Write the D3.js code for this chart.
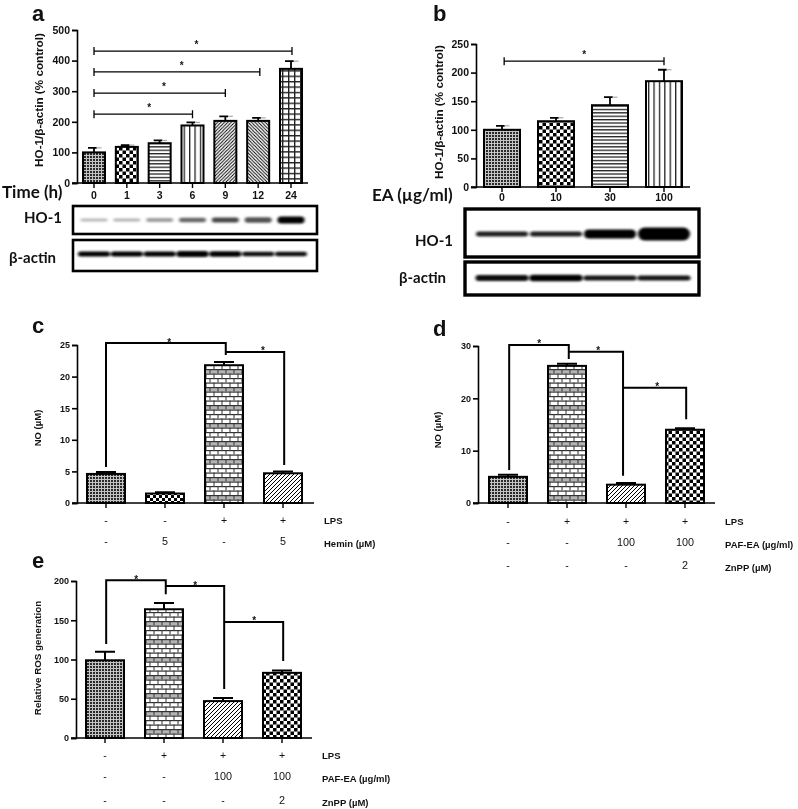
<!DOCTYPE html>
<html><head><meta charset="utf-8">
<script src="https://cdn.jsdelivr.net/npm/d3@7"></script>
<style>
html,body{margin:0;padding:0;background:#fff}
svg{display:block;filter:blur(0.35px)}
text{font-family:"Liberation Sans",Arial,sans-serif;fill:#111}
</style></head><body>
<script>
// ---------- data ----------
const catsA=["0","1","3","6","9","12","24"];
const valsA=[100,118,130,188,203,203,373];
const errsA=[15,6,9,10,15,10,25];
const fillsA=["fine","checker","hline","vline","diagR","diagL","grid"];
const ticksA=[0,100,200,300,400,500];
const bracketsA=[[0,3,225,1.68],[0,4,294,2.13],[0,5.05,363,2.67],[0,6.03,431,3.12]];

const catsB=["0","10","30","100"];
const valsB=[100,115,143,185];
const errsB=[7,6,14,20];
const fillsB=["fine","checker","hline","vline"];
const ticksB=[0,50,100,150,200,250];
const bracketsB=[[0.04,3,220,1.52]];

const catsC=["c1","c2","c3","c4"];
const valsC=[4.6,1.5,21.8,4.7];
const errsC=[0.3,0.2,0.5,0.3];
const fillsC=["fine","checkerSmall","brick","diagW"];
const ticksC=[0,5,10,15,20,25];
const pathsC=[[0,5.7,25.3,2.03,23.4,1.07],[2.03,23.9,23.9,3.02,6.0,2.66]];
const rowsC=[["-","-","+","+"],["-","5","-","5"]];
const rowNamesC=["LPS","Hemin (µM)"];

const catsD=["d1","d2","d3","d4"];
const valsD=[5,26.2,3.5,14];
const errsD=[0.4,0.4,0.3,0.3];
const fillsD=["fine","brick","diagW","checker"];
const ticksD=[0,10,20,30];
const pathsD=[[0.02,6.3,30.2,1.03,27.5,0.53],[1.03,28.9,28.9,1.95,5.2,1.53],[1.95,22,22,3.02,16,2.53]];
const rowsD=[["-","+","+","+"],["-","-","100","100"],["-","-","-","2"]];
const rowNamesD=["LPS","PAF-EA (µg/ml)","ZnPP (µM)"];

const catsE=["e1","e2","e3","e4"];
const valsE=[99,164,47,83];
const errsE=[11,8,4,3];
const fillsE=["fine","brick","diagW","checker"];
const ticksE=[0,50,100,150,200];
const pathsE=[[0.02,119.7,201,1.03,183,0.53],[1.03,193.6,193.6,2.02,62.4,1.53],[2.02,147.8,147.8,3.02,98,2.53]];
const rowsE=[["-","+","+","+"],["-","-","100","100"],["-","-","-","2"]];
const rowNamesE=["LPS","PAF-EA (µg/ml)","ZnPP (µM)"];

const hoA=[0.28,0.3,0.38,0.6,0.72,0.68,1];
const hoThickA=[3,3,4,4.5,5,5.5,7];
const actinA=[1,1,1,1,1,0.95,0.95];
const actinThickA=[5,5,5,6,5.5,4.5,4.5];
const hoB=[0.88,0.88,1,1];
const hoThickB=[5,5,9,13];
const actinB=[0.95,1,0.92,0.92];
const actinThickB=[6,6.5,5,5];

// ---------- drawing ----------
const svg=d3.select("body").append("svg").attr("width",798).attr("height",809);
const defs=svg.append("defs");
function pat(id,w,h,draw,bg){
  const p=defs.append("pattern").attr("id",id).attr("patternUnits","userSpaceOnUse").attr("width",w).attr("height",h);
  p.append("rect").attr("width",w).attr("height",h).attr("fill",bg||"#fff");
  draw(p);
}
const r=(p,x,y,w,h,c)=>p.append("rect").attr("x",x).attr("y",y).attr("width",w).attr("height",h).attr("fill",c||"#000");
const l=(p,d,sw)=>p.append("path").attr("d",d).attr("stroke","#000").attr("stroke-width",sw).attr("fill","none");
pat("fine",3,3,p=>r(p,0,0,2,2,"#2a2a2a"),"#c4c4c4");
pat("checker",7,7,p=>{r(p,0,0,3.5,3.5);r(p,3.5,3.5,3.5,3.5);});
pat("checkerSmall",6,6,p=>{r(p,0,0,3,3);r(p,3,3,3,3);});
pat("hline",10,3.4,p=>r(p,0,0,10,1.3,"#222"));
pat("vline",5.4,10,p=>r(p,0,0,1.3,10,"#222"));
pat("diagR",3.4,3.4,p=>l(p,"M-1,1 L1,-1 M0,3.4 L3.4,0 M2.4,4.4 L4.4,2.4",0.95));
pat("diagL",3.4,3.4,p=>l(p,"M-1,2.4 L1,4.4 M0,0 L3.4,3.4 M2.4,-1 L4.4,1",0.95));
pat("diagW",4,4,p=>l(p,"M-1,1 L1,-1 M0,4 L4,0 M3,5 L5,3",1));
pat("grid",6,5.4,p=>{r(p,0,0,1.4,5.4,"#222");r(p,0,0,6,1.4,"#222");});
pat("brick",8,18,p=>{
  r(p,0,9,8,4.5,"#b4b4b4");
  [0,4.5,9,13.5].forEach(v=>r(p,0,v,8,1.2,"#333"));
  r(p,1.5,0,1,4.5,"#333");r(p,5.5,4.5,1,4.5,"#333");r(p,1.5,9,1,4.5,"#333");r(p,5.5,13.5,1,4.5,"#333");
});
defs.append("filter").attr("id","blot").attr("x","-30%").attr("y","-100%").attr("width","160%").attr("height","300%")
  .append("feGaussianBlur").attr("stdDeviation","1.8 1.1");

function panel(o){
  const g=svg.append("g");
  const x=d3.scalePoint().domain(o.cats).range(o.xr);
  const y=d3.scaleLinear().domain([0,o.ticks[o.ticks.length-1]]).range(o.yr);
  const xi=i=>o.xr[0]+i*x.step();
  const bars=g.selectAll(".b").data(o.vals).enter().append("g");
  bars.append("path")
    .attr("d",(d,i)=>{const cx=x(o.cats[i]);const t=y(d+o.errs[i]);
      return `M${cx},${y(d)}V${t}M${cx-o.cap},${t}H${cx+(o.tail?o.cap*0.45:o.cap)}`;})
    .attr("stroke","#000").attr("stroke-width",o.errW).attr("fill","none");
  if(o.tail) bars.append("path")
    .attr("d",(d,i)=>{const cx=x(o.cats[i]);const t=y(d+o.errs[i]);return `M${cx+o.cap*0.45},${t}H${cx+o.cap*1.25}`;})
    .attr("stroke","#aaa").attr("stroke-width",1.2).attr("fill","none");
  bars.append("rect")
    .attr("x",(d,i)=>x(o.cats[i])-o.bw/2).attr("width",o.bw)
    .attr("y",d=>y(d)).attr("height",d=>y(0)-y(d))
    .attr("fill",(d,i)=>`url(#${o.fills[i]})`).attr("stroke","#000").attr("stroke-width",o.barW);
  const ya=d3.axisLeft(y).tickValues(o.ticks).tickSize(5).tickPadding(2).tickFormat(d3.format("d"));
  const yg=g.append("g").attr("transform",`translate(${o.xa},0)`).call(ya);
  yg.selectAll("text").attr("font-size",o.tickFs).attr("font-weight","bold").style("font-family",'"Liberation Sans"');
  yg.selectAll("line,path").attr("stroke","#000").attr("stroke-width",1.6);
  g.append("path").attr("d",`M${o.xa-5},${y(0)}H${o.xEnd}`).attr("stroke","#000").attr("stroke-width",1.6);
  g.selectAll(".t").data(o.cats).enter().append("path")
    .attr("d",c=>`M${x(c)},${y(0)}v5`).attr("stroke","#000").attr("stroke-width",1.4);
  if(o.labels) g.selectAll(".l").data(o.cats).enter().append("text")
    .attr("x",c=>x(c)).attr("y",o.labelY).attr("text-anchor","middle")
    .attr("font-size",o.tickFs).attr("font-weight","bold").text(c=>c);
  g.append("text").attr("transform",`translate(${o.titleX},${o.titleY}) rotate(-90)`)
    .attr("text-anchor","middle").attr("font-size",o.titleFs).attr("font-weight","bold").text(o.title);
  g.append("text").attr("x",o.letter[1]).attr("y",o.letter[2]).attr("font-size",22).attr("font-weight","bold").text(o.letter[0]);
  (o.brackets||[]).forEach(b=>{
    const Y=y(b[2]);
    g.append("path").attr("d",`M${xi(b[0])},${Y-4}v8M${xi(b[0])},${Y}H${xi(b[1])}M${xi(b[1])},${Y-4}v8`)
      .attr("stroke","#000").attr("stroke-width",1.3).attr("fill","none");
    g.append("text").attr("x",xi(b[3])).attr("y",Y-3).attr("text-anchor","middle").attr("font-size",10).attr("font-weight","bold").text("*");
  });
  (o.paths||[]).forEach(b=>{
    g.append("path").attr("d",`M${xi(b[0])},${y(b[1])}V${y(b[2])}H${xi(b[3])}V${y(b[4])}`)
      .attr("stroke","#000").attr("stroke-width",2).attr("fill","none");
    g.append("text").attr("x",xi(b[5])).attr("y",y(b[2])+2.5).attr("text-anchor","middle").attr("font-size",10).attr("font-weight","bold").text("*");
  });
  (o.rows||[]).forEach((row,k)=>{
    row.forEach((t,i)=>{
      g.append("text").attr("x",x(o.cats[i])).attr("y",o.rowY[k]).attr("text-anchor","middle")
        .attr("font-size",t!=="-"&&t!=="+"?10.8:10.5).attr("fill","#222").text(t);
    });
    g.append("text").attr("x",o.rowX).attr("y",o.rowY[k]+(k?1.5:0)).attr("font-size",o.rowFs).attr("font-weight","bold").text(o.rowNames[k]);
  });
  return {x,y,g};
}

function blot(cx,xs,cy,vals,thick,w,box,boxW){
  svg.append("rect").attr("x",box[0]).attr("y",box[1]).attr("width",box[2]-box[0]).attr("height",box[3]-box[1])
    .attr("fill","#fff").attr("stroke","#000").attr("stroke-width",boxW);
  svg.append("g").attr("filter","url(#blot)").selectAll("rect").data(vals).enter().append("rect")
    .attr("x",(d,i)=>xs(cx[i])-w/2).attr("width",w)
    .attr("y",(d,i)=>cy-thick[i]/2).attr("height",(d,i)=>thick[i])
    .attr("rx",(d,i)=>thick[i]/2).attr("ry",(d,i)=>thick[i]/2)
    .attr("fill","#000").attr("fill-opacity",d=>d);
}
function label(t,x,y,fs){
  svg.append("text").attr("x",x).attr("y",y).attr("font-size",fs).attr("font-weight","bold")
    .style("font-family","Lato,'Open Sans',sans-serif").text(t);
}

const A=panel({cats:catsA,vals:valsA,errs:errsA,fills:fillsA,ticks:ticksA,xr:[94,291],yr:[183,30],xa:77,xEnd:308,bw:22,cap:6,tail:true,errW:1.8,barW:2,
  tickFs:10.5,labels:true,labelY:199,title:"HO-1/β-actin (% control)",titleX:43,titleY:100,titleFs:11.7,letter:["a",32,21],brackets:bracketsA});
const B=panel({cats:catsB,vals:valsB,errs:errsB,fills:fillsB,ticks:ticksB,xr:[502,664],yr:[187,44],xa:476,xEnd:690,bw:36,cap:6,tail:true,errW:1.8,barW:2,
  tickFs:10.5,labels:true,labelY:201,title:"HO-1/β-actin (% control)",titleX:443,titleY:112,titleFs:11.7,letter:["b",433,21],brackets:bracketsB});
panel({cats:catsC,vals:valsC,errs:errsC,fills:fillsC,ticks:ticksC,xr:[106,283],yr:[503,345],xa:77,xEnd:314,bw:38,cap:10,errW:2,barW:2,
  tickFs:9,title:"NO (µM)",titleX:41,titleY:428,titleFs:9.5,letter:["c",32,333],paths:pathsC,rows:rowsC,rowNames:rowNamesC,rowY:[524,545],rowX:324,rowFs:9.5});
panel({cats:catsD,vals:valsD,errs:errsD,fills:fillsD,ticks:ticksD,xr:[508,685],yr:[503,346],xa:478,xEnd:715,bw:38,cap:10,errW:2,barW:2,
  tickFs:9,title:"NO (µM)",titleX:441,titleY:430,titleFs:9.5,letter:["d",433,336],paths:pathsD,rows:rowsD,rowNames:rowNamesD,rowY:[525,546,569],rowX:725,rowFs:9.5});
panel({cats:catsE,vals:valsE,errs:errsE,fills:fillsE,ticks:ticksE,xr:[105,282],yr:[738,581],xa:76,xEnd:312,bw:38,cap:10,errW:2,barW:2,
  tickFs:9,title:"Relative ROS generation",titleX:41,titleY:658,titleFs:9.8,letter:["e",32,568],paths:pathsE,rows:rowsE,rowNames:rowNamesE,rowY:[759,780,804],rowX:322,rowFs:9.5});

blot(catsA,A.x,220,hoA,hoThickA,27,[73,206,317,234],2.6);
blot(catsA,A.x,254,actinA,actinThickA,32,[73,240,317,271],2.6);
blot(catsB,B.x,234,hoB,hoThickB,52,[465,209,699,257],3.4);
blot(catsB,B.x,278,actinB,actinThickB,53,[465,262,699,295],3.4);

label("Time (h)",2,198,17);
label("HO-1",24,223,15);
label("β-actin",9,263,15);
label("EA (µg/ml)",372,201,17);
label("HO-1",415,246,15);
label("β-actin",399,283,15);
</script>
</body></html>
